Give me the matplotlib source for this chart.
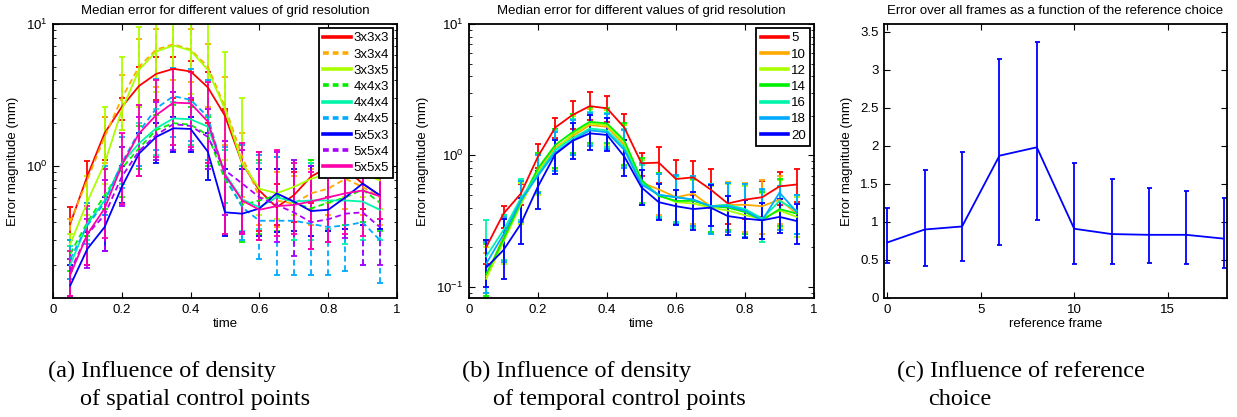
import numpy as np
import matplotlib
matplotlib.use("Agg")
import matplotlib.pyplot as plt
from matplotlib.lines import Line2D
from matplotlib.ticker import LogLocator, NullFormatter, FormatStrFormatter, FixedLocator

plt.rcParams['font.family'] = ['Liberation Sans', 'DejaVu Sans']
plt.rcParams['font.size'] = 9.5
plt.rcParams['mathtext.default'] = 'regular'

# ---------------- data ----------------
time = [0.05, 0.10, 0.15, 0.20, 0.25, 0.30, 0.35, 0.40, 0.45, 0.50,
        0.55, 0.60, 0.65, 0.70, 0.75, 0.80, 0.85, 0.90, 0.95]

# (a) spatial grid resolution: medians, lower and upper error bounds
a_labels = ['3x3x3', '3x3x4', '3x3x5', '4x4x3', '4x4x4', '4x4x5', '5x5x3', '5x5x4', '5x5x5']
a_med_333 = [0.39, 0.85, 1.7, 2.6, 3.66, 4.45, 4.83, 4.63, 3.58, 2.25, 1.04, 0.67, 0.51, 0.62, 0.84, 0.98, 0.95, 0.75, 0.62]
a_lo_333 = [0.30, 0.55, 1.1, 2.1, 2.7, 2.9, 3.0, 2.9, 2.0, 1.3, 0.55, 0.35, 0.38, 0.40, 0.55, 0.6, 0.6, 0.5, 0.42]
a_hi_333 = [0.51, 1.08, 2.2, 3.0, 5.0, 5.9, 5.9, 5.5, 4.6, 2.5, 1.4, 1.25, 0.75, 0.9, 1.05, 1.2, 1.2, 1.0, 0.85]
a_med_334 = [0.40, 0.80, 1.6, 3.0, 5.0, 6.6, 7.2, 6.6, 5.0, 2.6, 1.16, 0.60, 0.57, 0.54, 0.64, 0.69, 0.81, 0.71, 0.60]
a_lo_334 = [0.30, 0.55, 1.05, 1.8, 2.7, 3.6, 4.0, 3.9, 2.6, 1.4, 0.6, 0.38, 0.37, 0.35, 0.38, 0.45, 0.5, 0.45, 0.38]
a_hi_334 = [0.42, 0.85, 2.2, 4.4, 7.8, 9.2, 10.0, 9.2, 7.2, 4.2, 1.7, 1.2, 0.9, 0.85, 0.95, 1.0, 1.05, 1.0, 0.9]
a_med_335 = [0.28, 0.56, 1.04, 2.47, 4.75, 6.4, 7.06, 6.5, 4.75, 2.5, 1.04, 0.69, 0.64, 0.71, 0.81, 0.88, 0.93, 0.88, 0.79]
a_lo_335 = [0.22, 0.45, 0.75, 1.8, 2.6, 3.3, 3.3, 3.2, 2.2, 1.1, 0.55, 0.45, 0.42, 0.45, 0.5, 0.55, 0.6, 0.6, 0.5]
a_hi_335 = [0.33, 0.85, 2.6, 5.9, 9.5, 11.0, 11.0, 11.0, 11.0, 6.3, 3.0, 1.2, 0.95, 0.95, 1.1, 1.2, 1.2, 1.2, 1.0]
a_med_443 = [0.24, 0.40, 0.62, 0.96, 1.33, 1.79, 2.0, 1.95, 1.65, 0.80, 0.53, 0.57, 0.62, 0.55, 0.50, 0.55, 0.60, 0.68, 0.55]
a_lo_443 = [0.18, 0.32, 0.5, 0.6, 0.95, 1.1, 1.4, 1.4, 1.0, 0.55, 0.29, 0.33, 0.35, 0.3, 0.32, 0.35, 0.38, 0.40, 0.35]
a_hi_443 = [0.30, 0.50, 0.95, 1.35, 1.9, 2.3, 2.7, 2.6, 2.2, 1.3, 1.0, 1.1, 1.15, 1.1, 1.1, 1.1, 1.15, 1.2, 1.05]
a_med_444 = [0.20, 0.39, 0.57, 1.04, 1.44, 1.84, 2.16, 2.13, 1.89, 0.88, 0.58, 0.51, 0.60, 0.56, 0.57, 0.57, 0.57, 0.56, 0.49]
a_lo_444 = [0.16, 0.30, 0.45, 0.75, 1.0, 1.2, 1.4, 1.4, 1.05, 0.55, 0.35, 0.36, 0.34, 0.30, 0.30, 0.36, 0.28, 0.30, 0.30]
a_hi_444 = [0.27, 0.50, 0.95, 1.35, 2.0, 2.5, 2.8, 2.8, 2.3, 1.3, 1.0, 1.05, 1.15, 1.1, 1.05, 1.05, 1.05, 1.1, 0.95]
a_med_445 = [0.22, 0.38, 0.55, 1.05, 1.74, 2.54, 3.1, 2.92, 2.22, 0.84, 0.51, 0.41, 0.41, 0.41, 0.39, 0.37, 0.38, 0.40, 0.30]
a_lo_445 = [0.16, 0.28, 0.45, 0.70, 1.0, 1.3, 1.6, 1.5, 1.1, 0.33, 0.30, 0.22, 0.17, 0.17, 0.17, 0.17, 0.18, 0.20, 0.15]
a_hi_445 = [0.30, 0.55, 1.0, 1.6, 2.7, 4.1, 4.9, 4.8, 4.0, 1.35, 1.4, 1.2, 1.15, 1.05, 1.0, 1.0, 1.0, 1.0, 0.95]
a_med_553 = [0.143, 0.26, 0.37, 0.71, 1.22, 1.60, 1.84, 1.82, 1.26, 0.47, 0.46, 0.50, 0.64, 0.56, 0.48, 0.49, 0.60, 0.75, 0.62]
a_lo_553 = [0.12, 0.20, 0.25, 0.55, 0.85, 1.05, 1.25, 1.25, 0.8, 0.32, 0.33, 0.32, 0.34, 0.35, 0.32, 0.35, 0.36, 0.38, 0.36]
a_hi_553 = [0.20, 0.34, 0.6, 1.0, 1.7, 2.0, 2.2, 2.2, 1.7, 0.95, 0.95, 0.95, 0.95, 0.95, 1.0, 1.1, 1.1, 1.0, 0.95]
a_med_554 = [0.18, 0.33, 0.45, 0.84, 1.27, 1.65, 1.97, 1.91, 1.6, 0.93, 0.75, 0.6, 0.53, 0.47, 0.40, 0.42, 0.46, 0.47, 0.37]
a_lo_554 = [0.12, 0.19, 0.25, 0.52, 0.85, 1.1, 1.3, 1.3, 0.95, 0.45, 0.34, 0.30, 0.29, 0.23, 0.26, 0.29, 0.31, 0.20, 0.20]
a_hi_554 = [0.22, 0.42, 0.80, 1.35, 2.2, 2.8, 3.3, 3.0, 2.5, 1.5, 1.3, 1.25, 1.25, 1.1, 1.0, 1.0, 1.0, 0.95, 0.95]
a_med_555 = [0.17, 0.33, 0.50, 1.01, 1.69, 2.28, 2.79, 2.76, 2.05, 0.86, 0.57, 0.49, 0.52, 0.53, 0.56, 0.60, 0.64, 0.67, 0.61]
a_lo_555 = [0.12, 0.20, 0.31, 0.54, 0.85, 1.15, 1.4, 1.35, 1.05, 0.33, 0.33, 0.30, 0.32, 0.33, 0.26, 0.29, 0.33, 0.32, 0.42]
a_hi_555 = [0.25, 0.52, 0.95, 1.7, 2.7, 4.0, 4.8, 4.6, 3.9, 2.45, 1.45, 1.25, 1.3, 1.05, 0.9, 0.98, 1.0, 1.0, 0.95]

# (b) temporal control points
b_labels = ['5', '10', '12', '14', '16', '18', '20']
b_med_5 = [0.20, 0.36, 0.51, 0.98, 1.63, 2.03, 2.37, 2.28, 1.63, 0.87, 0.88, 0.66, 0.68, 0.55, 0.43, 0.46, 0.48, 0.58, 0.60]
b_lo_5 = [0.148, 0.28, 0.42, 0.80, 1.35, 1.6, 1.85, 1.8, 1.3, 0.70, 0.62, 0.48, 0.50, 0.40, 0.30, 0.33, 0.34, 0.42, 0.44]
b_hi_5 = [0.226, 0.41, 0.60, 1.22, 1.91, 2.61, 3.05, 2.83, 2.05, 1.04, 1.16, 0.92, 0.90, 0.79, 0.62, 0.60, 0.64, 0.75, 0.79]
b_med_10 = [0.12, 0.24, 0.44, 0.78, 1.15, 1.4, 1.7, 1.65, 1.2, 0.62, 0.55, 0.48, 0.51, 0.41, 0.42, 0.42, 0.41, 0.46, 0.36]
b_lo_10 = [0.09, 0.16, 0.30, 0.52, 0.8, 1.0, 1.2, 1.15, 0.82, 0.42, 0.35, 0.31, 0.30, 0.26, 0.27, 0.26, 0.25, 0.30, 0.25]
b_hi_10 = [0.18, 0.33, 0.62, 1.05, 1.6, 2.0, 2.25, 2.2, 1.7, 0.85, 0.74, 0.70, 0.70, 0.60, 0.63, 0.62, 0.65, 0.70, 0.50]
b_med_12 = [0.115, 0.22, 0.42, 0.75, 1.1, 1.45, 1.75, 1.7, 1.25, 0.62, 0.50, 0.44, 0.43, 0.40, 0.38, 0.35, 0.33, 0.38, 0.34]
b_lo_12 = [0.08, 0.15, 0.30, 0.50, 0.78, 1.0, 1.2, 1.2, 0.85, 0.42, 0.33, 0.30, 0.28, 0.25, 0.26, 0.24, 0.22, 0.28, 0.24]
b_hi_12 = [0.20, 0.34, 0.62, 1.02, 1.55, 2.0, 2.3, 2.25, 1.7, 0.92, 0.72, 0.68, 0.65, 0.58, 0.60, 0.58, 0.52, 0.65, 0.48]
b_med_14 = [0.125, 0.23, 0.44, 0.8, 1.2, 1.5, 1.8, 1.75, 1.3, 0.65, 0.49, 0.45, 0.45, 0.41, 0.40, 0.37, 0.32, 0.39, 0.36]
b_lo_14 = [0.085, 0.16, 0.31, 0.53, 0.8, 1.05, 1.25, 1.25, 0.85, 0.43, 0.34, 0.31, 0.29, 0.26, 0.27, 0.25, 0.23, 0.29, 0.25]
b_hi_14 = [0.21, 0.35, 0.64, 1.05, 1.6, 2.05, 2.35, 2.3, 1.75, 0.95, 0.73, 0.70, 0.66, 0.60, 0.62, 0.60, 0.53, 0.66, 0.50]
b_med_16 = [0.17, 0.27, 0.47, 0.72, 1.1, 1.35, 1.6, 1.55, 1.15, 0.62, 0.5, 0.48, 0.46, 0.41, 0.42, 0.39, 0.33, 0.45, 0.38]
b_lo_16 = [0.09, 0.16, 0.32, 0.52, 0.76, 1.0, 1.2, 1.15, 0.82, 0.42, 0.34, 0.31, 0.28, 0.25, 0.26, 0.24, 0.22, 0.27, 0.25]
b_hi_16 = [0.32, 0.35, 0.66, 1.0, 1.55, 1.9, 2.15, 2.1, 1.6, 0.85, 0.72, 0.70, 0.68, 0.60, 0.62, 0.60, 0.54, 0.58, 0.50]
b_med_18 = [0.15, 0.25, 0.45, 0.7, 1.05, 1.3, 1.55, 1.5, 1.1, 0.6, 0.5, 0.48, 0.46, 0.41, 0.41, 0.38, 0.32, 0.52, 0.37]
b_lo_18 = [0.09, 0.155, 0.31, 0.52, 0.76, 1.0, 1.18, 1.12, 0.8, 0.42, 0.33, 0.30, 0.29, 0.25, 0.26, 0.24, 0.23, 0.27, 0.25]
b_hi_18 = [0.22, 0.34, 0.64, 1.0, 1.5, 1.85, 2.1, 2.05, 1.55, 0.87, 0.72, 0.71, 0.70, 0.61, 0.62, 0.60, 0.55, 0.58, 0.50]
b_med_20 = [0.14, 0.19, 0.30, 0.58, 1.02, 1.29, 1.47, 1.43, 0.98, 0.57, 0.44, 0.41, 0.39, 0.40, 0.345, 0.33, 0.32, 0.34, 0.316]
b_lo_20 = [0.10, 0.114, 0.21, 0.39, 0.72, 0.93, 1.09, 1.07, 0.70, 0.42, 0.32, 0.295, 0.27, 0.29, 0.247, 0.233, 0.23, 0.255, 0.211]
b_hi_20 = [0.226, 0.33, 0.476, 0.76, 1.32, 1.77, 2.03, 1.91, 1.31, 0.78, 0.61, 0.54, 0.53, 0.59, 0.49, 0.457, 0.436, 0.465, 0.426]

# (c) reference choice
ref_frame = [0, 2, 4, 6, 8, 10, 12, 14, 16, 18]
c_med = [0.73, 0.90, 0.94, 1.87, 1.98, 0.91, 0.84, 0.83, 0.83, 0.78]
c_lo = [0.46, 0.42, 0.49, 0.69, 1.03, 0.45, 0.45, 0.46, 0.45, 0.40]
c_hi = [1.18, 1.68, 1.92, 3.14, 3.37, 1.78, 1.56, 1.45, 1.40, 1.32]

colors9 = ['#ff0000', '#ffaa00', '#aaff00', '#00f000', '#00f5aa', '#00aaff', '#0000ff', '#aa00ff', '#ff00aa']
styles9 = ['-', '--', '-', '--', '-', '--', '-', '--', '-']

a_series = [(a_med_333, a_lo_333, a_hi_333), (a_med_334, a_lo_334, a_hi_334),
            (a_med_335, a_lo_335, a_hi_335), (a_med_443, a_lo_443, a_hi_443),
            (a_med_444, a_lo_444, a_hi_444), (a_med_445, a_lo_445, a_hi_445),
            (a_med_553, a_lo_553, a_hi_553), (a_med_554, a_lo_554, a_hi_554),
            (a_med_555, a_lo_555, a_hi_555)]
b_series = [(b_med_5, b_lo_5, b_hi_5), (b_med_10, b_lo_10, b_hi_10),
            (b_med_12, b_lo_12, b_hi_12), (b_med_14, b_lo_14, b_hi_14),
            (b_med_16, b_lo_16, b_hi_16), (b_med_18, b_lo_18, b_hi_18),
            (b_med_20, b_lo_20, b_hi_20)]

# ---------------- figure ----------------
W, H = 1237, 417
fig = plt.figure(figsize=(W / 100, H / 100), dpi=100)

def px_axes(l, r, t, b):
    return fig.add_axes([l / W, 1 - b / H, (r - l) / W, (b - t) / H])

ax_a = px_axes(53, 397, 24, 298)
ax_b = px_axes(469, 814, 24, 298)
ax_c = px_axes(884, 1227, 24, 298)

LW = 1.3

def eb(ax, x, med, lo, hi, color, ls, capsize):
    med = np.asarray(med); lo = np.asarray(lo); hi = np.asarray(hi)
    cont = ax.errorbar(x, med, yerr=[med - lo, hi - med], color=color, ls=ls, lw=LW,
                       elinewidth=LW, capsize=capsize, capthick=LW)
    if ls != '-':
        cont[0].set_dashes([3.2, 2.0])
        for lc in cont[2]:
            lc.set_linestyle((0, (3.2, 2.0)))
    return cont

def style_axes(ax):
    for s in ax.spines.values():
        s.set_linewidth(1.3)
        s.set_color('black')
    ax.tick_params(which='both', direction='in', top=True, right=True, colors='black',
                   labelsize=9.5, pad=4)
    ax.tick_params(which='major', length=4, width=0.8)
    ax.tick_params(which='minor', length=2.2, width=0.6)

legend_kw = dict(loc='upper right', fontsize=9.5, frameon=True, fancybox=False,
                 framealpha=1, edgecolor='black', borderaxespad=0.3, labelspacing=0.3,
                 borderpad=0.32, handlelength=2.1, handletextpad=0.2)

TITLE_PAD = 7

# panel a
for (med, lo, hi), c, ls in zip(a_series, colors9, styles9):
    eb(ax_a, time, med, lo, hi, c, ls, 2.5)
ax_a.set_yscale('log')
ax_a.set_ylim(0.117, 10)
ax_a.set_xlim(0, 1)
handles_a = []
for c, ls in zip(colors9, styles9):
    h = Line2D([], [], color=c, lw=2.6)
    if ls != '-':
        h.set_dashes([1.6, 1.1])
    handles_a.append(h)
leg = ax_a.legend(handles_a, a_labels, **legend_kw)
leg.get_frame().set_linewidth(1.3)
ax_a.set_title('Median error for different values of grid resolution', fontsize=9.5, pad=TITLE_PAD)

# panel b
for (med, lo, hi), c in zip(b_series, colors9[:7]):
    eb(ax_b, time, med, lo, hi, c, '-', 2.5)
ax_b.set_yscale('log')
ax_b.set_ylim(0.082, 10)
ax_b.set_xlim(0, 1)
handles_b = [Line2D([], [], color=c, lw=2.6) for c in colors9[:7]]
leg = ax_b.legend(handles_b, b_labels, **legend_kw)
leg.get_frame().set_linewidth(1.3)
ax_b.set_title('Median error for different values of grid resolution', fontsize=9.5, pad=TITLE_PAD)

for ax in (ax_a, ax_b):
    ax.yaxis.set_major_locator(LogLocator(base=10))
    ax.yaxis.set_minor_locator(LogLocator(base=10, subs=np.arange(2, 10)))
    ax.yaxis.set_minor_formatter(NullFormatter())
    ax.xaxis.set_major_locator(FixedLocator([0, 0.2, 0.4, 0.6, 0.8, 1.0]))
    ax.xaxis.set_major_formatter(FormatStrFormatter('%g'))
    ax.set_xlabel('time', fontsize=9.5, labelpad=2)
    ax.set_ylabel('Error magnitude (mm)', fontsize=9.5, labelpad=5)
    style_axes(ax)

# panel c
eb(ax_c, ref_frame, c_med, c_lo, c_hi, '#0000ff', '-', 1.8)
ax_c.set_xlim(-0.18, 18.18)
ax_c.set_ylim(0, 3.6)
ax_c.xaxis.set_major_locator(FixedLocator([0, 5, 10, 15]))
ax_c.yaxis.set_major_locator(FixedLocator([0, 0.5, 1, 1.5, 2, 2.5, 3, 3.5]))
ax_c.yaxis.set_major_formatter(FormatStrFormatter('%g'))
ax_c.set_xlabel('reference frame', fontsize=9.5, labelpad=2)
ax_c.set_ylabel('Error magnitude (mm)', fontsize=9.5, labelpad=5)
ax_c.set_title('Error over all frames as a function of the reference choice', fontsize=9.5, pad=TITLE_PAD)
style_axes(ax_c)

# captions
cap_font = dict(family=['Liberation Serif', 'DejaVu Serif'], fontsize=17.5, va='baseline', ha='left')
captions = [(48, 80, '(a) Influence of density', 'of spatial control points'),
            (462, 493, '(b) Influence of density', 'of temporal control points'),
            (897, 928, '(c) Influence of reference', 'choice')]
for x1, x2, l1, l2 in captions:
    fig.text(x1 / W, 1 - 377 / H, l1, **cap_font)
    fig.text(x2 / W, 1 - 405 / H, l2, **cap_font)

fig.savefig('out.png', dpi=100)
